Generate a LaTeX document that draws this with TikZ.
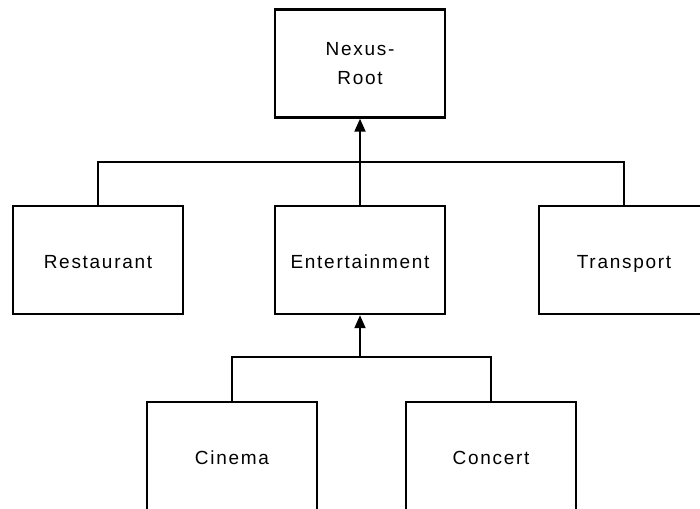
\documentclass[tikz,border=0pt]{standalone}
\usepackage{fontspec}
\setmainfont{Liberation Sans}[LetterSpace=9]
\usetikzlibrary{arrows.meta,positioning}

\begin{document}
\begin{tikzpicture}[x=1pt,y=-1pt,
     box/.style={draw,line width=2.4pt,minimum width=170pt,
       minimum height=108pt,inner sep=0pt,align=center,
       font=\fontsize{19}{29}\selectfont},
     leaf/.style={box,text height=16pt,text depth=0pt},
     link/.style={line width=2pt},
     up/.style={link,-{Triangle[width=11pt,length=13pt]}}]
    \path[use as bounding box,clip] (0,0) rectangle (700,508);
    \node[box] (root) at (360,63.5) {Nexus-\\Root};
    \node[leaf] (rest) at (98,260) {Restaurant};
    \node[leaf] (ent) at (360,260) {Entertainment};
    \node[leaf] (trans) at (624,260) {Transport};
    \node[leaf] (cin) at (232,456) {Cinema};
    \node[leaf] (con) at (491,456) {Concert};
    % joins on the bars
    \coordinate (jtop) at (360,162);
    \coordinate (jbot) at (360,357);
    \draw[link] (rest.north) |- (jtop) -| (trans.north);
    \draw[up] (ent.north) -- (root.south);
    \draw[link] (cin.north) |- (jbot) -| (con.north);
    \draw[up] (jbot) -- (ent.south);
  \end{tikzpicture}
\end{document}
